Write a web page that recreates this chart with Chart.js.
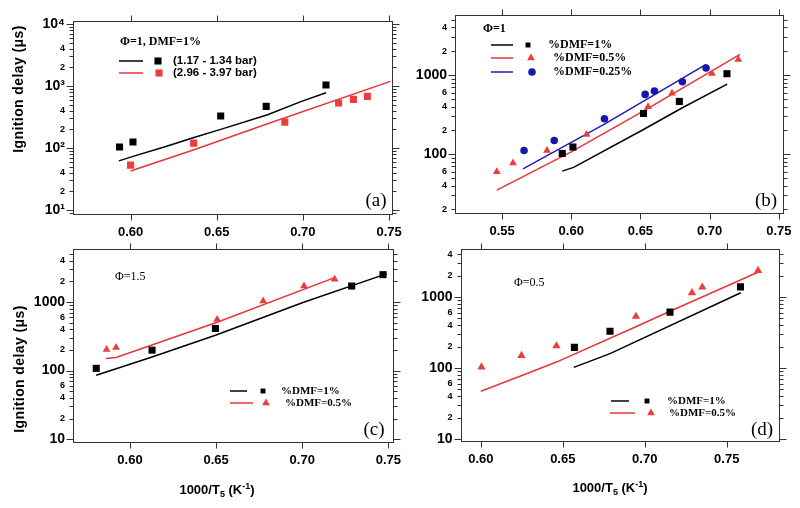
<!DOCTYPE html>
<html>
<head>
<meta charset="utf-8">
<script src="https://cdn.jsdelivr.net/npm/chart.js@4.4.0/dist/chart.umd.min.js"></script>
<style>
  html, body { margin: 0; padding: 0; background: #fff; }
  #wrap { position: relative; width: 800px; height: 508px; overflow: hidden; }
  #wrap canvas { position: absolute; left: 0; top: 0; }
  .ytitle, .xtitle {
    position: absolute; white-space: nowrap; color: #000;
    font: bold 14px "Liberation Sans", Arial, sans-serif;
  }
  .ytitle { transform: translate(-50%, -50%) rotate(-90deg); letter-spacing: 0.4px; }
  .xtitle { transform: translate(-50%, -50%); font-size: 13px; }
  .xtitle sub, .xtitle sup { font-size: 9px; }
</style>
</head>
<body>
<div id="wrap">
  <canvas id="pa" width="800" height="508"></canvas>
  <canvas id="pb" width="800" height="508"></canvas>
  <canvas id="pc" width="800" height="508"></canvas>
  <canvas id="pd" width="800" height="508"></canvas>
  <div class="ytitle" style="left:18px; top:89px;">Ignition delay (μs)</div>
  <div class="ytitle" style="left:19px; top:369px;">Ignition delay (μs)</div>
  <div class="xtitle" style="left:217px; top:490px;">1000/T<sub>5</sub> (K<sup>-1</sup>)</div>
  <div class="xtitle" style="left:610px; top:488px;">1000/T<sub>5</sub> (K<sup>-1</sup>)</div>
</div>
<script>
// ---- panel (a): phi=1, DMF=1%, two pressure ranges
const aBlackX = [0.5936, 0.6014, 0.6523, 0.6787, 0.7134];
const aBlackY = [104, 125, 328, 470, 1037];
const aRedX = [0.6000, 0.6366, 0.6895, 0.7207, 0.7293, 0.7374];
const aRedY = [53, 120, 262, 532, 609, 681];
const aBlackLineX = [0.5932, 0.6019, 0.6200, 0.6368, 0.6523, 0.6795, 0.6988, 0.7134];
const aBlackLineY = [62, 74, 105, 148, 200, 345, 560, 780];
const aRedLineX = [0.6000, 0.6368, 0.6795, 0.7508];
const aRedLineY = [42.5, 94, 246, 1189];

// ---- panel (b): phi=1, three DMF levels
const bBlackX = [0.5935, 0.6012, 0.6522, 0.6781, 0.7125];
const bBlackY = [102, 123, 327, 464, 1040];
const bRedX = [0.5462, 0.5579, 0.5825, 0.6111, 0.6555, 0.6728, 0.7017, 0.7207];
const bRedY = [60, 77, 111, 177, 397, 587, 1050, 1579];
const bBlueX = [0.5659, 0.5877, 0.6240, 0.6534, 0.6601, 0.6803, 0.6974];
const bBlueY = [111, 149, 280, 569, 627, 824, 1227];
const bBlackLineX = [0.5935, 0.6017, 0.6522, 0.6803, 0.7127];
const bBlackLineY = [61, 68, 205, 386, 769];
const bRedLineX = [0.5462, 0.6000, 0.6555, 0.7219];
const bRedLineY = [35, 107, 379, 1829];
const bBlueLineX = [0.5651, 0.6240, 0.6974];
const bBlueLineY = [65, 240, 1365];

// ---- panel (c): phi=1.5
const cBlackX = [0.5804, 0.6128, 0.6496, 0.7287, 0.7469];
const cBlackY = [108, 199, 412, 1714, 2512];
const cRedX = [0.5864, 0.5919, 0.6506, 0.6773, 0.7010, 0.7188];
const cRedY = [203, 217, 557, 1035, 1714, 2147];
const cBlackLineX = [0.5804, 0.6128, 0.6496, 0.7000, 0.7492];
const cBlackLineY = [85.5, 158, 329, 977, 2600];
const cRedLineX = [0.5860, 0.5919, 0.6506, 0.7188];
const cRedLineY = [150, 155, 509, 2270];

// ---- panel (d): phi=0.5
const dBlackX = [0.6571, 0.6788, 0.7154, 0.7584];
const dBlackY = [195, 328, 612, 1389];
const dRedX = [0.6004, 0.6248, 0.6461, 0.6946, 0.7288, 0.7351, 0.7691];
const dRedY = [103, 149, 204, 532, 1146, 1374, 2355];
const dBlackLineX = [0.6567, 0.6788, 0.7586];
const dBlackLineY = [102, 159, 1146];
const dRedLineX = [0.6000, 0.6231, 0.6461, 0.6946, 0.7154, 0.7690];
const dRedLineY = [47, 75, 121, 381, 630, 2234];

// tick labels
const xTicksA = [0.60, 0.65, 0.70, 0.75];
const xTicksB = [0.55, 0.60, 0.65, 0.70, 0.75];
const xTicksC = [0.60, 0.65, 0.70, 0.75];
const xTicksD = [0.60, 0.65, 0.70, 0.75];
const minorLabelsA = [2, 4];
const minorLabelsBCD = [2, 4, 6];
const supDigits = { '1': '¹', '2': '²', '3': '³', '4': '⁴' };

const SANS = '"Liberation Sans", Arial, sans-serif';
const SERIF = '"Liberation Serif", "Times New Roman", serif';
const RED = '#ec3d3d';
const RED_LINE = '#e8343a';
const BLUE = '#1818a8';
const BLUE_LINE = '#1e1eb4';

function pts(xs, ys) {
    return xs.map((x, i) => ({ x: x, y: ys[i] }));
}
function lineSet(xs, ys, color) {
    return { data: pts(xs, ys), showLine: true, borderColor: color, borderWidth: 1.5,
             pointRadius: 0, pointHoverRadius: 0, tension: 0 };
}
function markSet(xs, ys, color, style, r) {
    return { data: pts(xs, ys), showLine: false, pointStyle: style, pointRadius: r,
             pointHoverRadius: r, backgroundColor: color, borderColor: color, borderWidth: 0 };
}
function isDecade(v) {
    const l = Math.log10(v);
    return Math.abs(l - Math.round(l)) < 1e-9;
}
// 1..9 x 10^n ticks inside the range
function logTicks(min, max) {
    const out = [];
    for (let e = Math.floor(Math.log10(min)); e <= Math.ceil(Math.log10(max)); e++) {
        for (let k = 1; k <= 9; k++) {
            const v = k * Math.pow(10, e);
            if (v >= min && v <= max) out.push({ value: v });
        }
    }
    return out;
}

// frame and outward ticks on all four sides
const framePlugin = {
    id: 'frame',
    afterDraw(chart) {
        const { ctx, chartArea: a, scales } = chart;
        ctx.save();
        ctx.strokeStyle = '#333';
        ctx.lineWidth = 1;
        const L = Math.round(a.left) + 0.5, R = Math.round(a.right) + 0.5;
        const T = Math.round(a.top) + 0.5, B = Math.round(a.bottom) + 0.5;
        ctx.strokeRect(L, T, R - L, B - T);
        ctx.beginPath();
        scales.x.ticks.forEach(t => {
            const px = Math.round(scales.x.getPixelForValue(t.value)) + 0.5;
            ctx.moveTo(px, B); ctx.lineTo(px, B + 6);
            ctx.moveTo(px, T); ctx.lineTo(px, T - 6);
        });
        scales.y.ticks.forEach(t => {
            const py = Math.round(scales.y.getPixelForValue(t.value)) + 0.5;
            const len = isDecade(t.value) ? 7 : 4;
            ctx.moveTo(L, py); ctx.lineTo(L - len, py);
            ctx.moveTo(R, py); ctx.lineTo(R + len, py);
        });
        ctx.stroke();
        ctx.restore();
    }
};

// in-plot legend, headings and panel letters
const notesPlugin = {
    id: 'notes',
    afterDraw(chart, args, opts) {
        const ctx = chart.ctx;
        ctx.save();
        (opts.items || []).forEach(it => {
            if (it.kind === 'text') {
                ctx.font = it.font;
                ctx.fillStyle = '#000';
                ctx.textAlign = it.align || 'left';
                ctx.textBaseline = 'middle';
                ctx.fillText(it.text, it.x, it.y);
            } else if (it.kind === 'line') {
                ctx.strokeStyle = it.color;
                ctx.lineWidth = 1.5;
                ctx.beginPath();
                ctx.moveTo(it.x1, it.y); ctx.lineTo(it.x2, it.y);
                ctx.stroke();
            } else if (it.kind === 'mark') {
                ctx.fillStyle = it.color;
                ctx.strokeStyle = it.color;
                ctx.lineWidth = 0;
                Chart.helpers.drawPoint(ctx, { pointStyle: it.style, radius: it.r, rotation: 0, borderWidth: 0 }, it.x, it.y);
            }
        });
        ctx.restore();
    }
};

function makePanel(id, p) {
    return new Chart(document.getElementById(id), {
        type: 'scatter',
        data: { datasets: p.datasets },
        options: {
            responsive: false,
            animation: false,
            events: [],
            layout: { padding: p.padding },
            scales: {
                x: {
                    type: 'linear',
                    min: p.xMin, max: p.xMax,
                    afterBuildTicks: s => { s.ticks = p.xTicks.map(v => ({ value: v })); },
                    afterFit: s => { s.height = 30; },
                    grid: { display: false, drawTicks: true, tickLength: 6 },
                    border: { display: false },
                    ticks: {
                        autoSkip: false, maxRotation: 0, padding: 5, color: '#000',
                        font: { family: SANS, size: 13, weight: 'bold' },
                        callback: v => Number(v).toFixed(2)
                    }
                },
                y: {
                    type: 'logarithmic',
                    min: p.yMin, max: p.yMax,
                    afterBuildTicks: s => { s.ticks = logTicks(p.yMin, p.yMax); },
                    afterFit: s => { s.width = 45; },
                    grid: { display: false, drawTicks: true, tickLength: 6 },
                    border: { display: false },
                    ticks: {
                        autoSkip: false, padding: 2, color: '#000',
                        font: c => (c.tick && isDecade(c.tick.value))
                            ? { family: SANS, size: 14, weight: 'bold' }
                            : { family: SANS, size: 9, weight: 'bold' },
                        callback: v => {
                            if (isDecade(v)) {
                                if (p.sup) return '10' + supDigits[String(Math.round(Math.log10(v)))];
                                return String(Math.round(v));
                            }
                            const d = Math.round(v / Math.pow(10, Math.floor(Math.log10(v) + 1e-9)));
                            return p.minorLabels.includes(d) ? String(d) : '';
                        }
                    }
                }
            },
            plugins: {
                legend: { display: false },
                tooltip: { enabled: false },
                notes: { items: p.notes }
            }
        },
        plugins: [framePlugin, notesPlugin]
    });
}

const legSans = 'bold 11.5px ' + SANS;
const headSerif = 'bold 12px ' + SERIF;
const rowSerifB = 'bold 12px ' + SERIF;
const rowSerif = 'bold 11px ' + SERIF;
const letterFont = '19px ' + SERIF;

makePanel('pa', {
    padding: { left: 28, top: 21, right: 408.5, bottom: 264 },
    xMin: 0.5666, xMax: 0.7514, yMin: 8.61, yMax: 11220,
    xTicks: xTicksA, minorLabels: minorLabelsA, sup: true,
    datasets: [
        markSet(aBlackX, aBlackY, '#000', 'rect', 5),
        markSet(aRedX, aRedY, RED, 'rect', 5),
        lineSet(aBlackLineX, aBlackLineY, '#000'),
        lineSet(aRedLineX, aRedLineY, RED_LINE)
    ],
    notes: [
        { kind: 'text', text: 'Φ=1, DMF=1%', x: 120, y: 42, font: headSerif },
        { kind: 'line', x1: 119, x2: 143, y: 61, color: '#000' },
        { kind: 'mark', style: 'rect', r: 5, x: 158, y: 61, color: '#000' },
        { kind: 'text', text: '(1.17 - 1.34 bar)', x: 173, y: 61, font: legSans },
        { kind: 'line', x1: 119, x2: 143, y: 73, color: RED_LINE },
        { kind: 'mark', style: 'rect', r: 5, x: 159, y: 73, color: RED },
        { kind: 'text', text: '(2.96 - 3.97 bar)', x: 173, y: 73, font: legSans },
        { kind: 'text', text: '(a)', x: 376, y: 201, font: letterFont, align: 'center' }
    ]
});

makePanel('pb', {
    padding: { left: 410, top: 15, right: 17, bottom: 265 },
    xMin: 0.516, xMax: 0.753, yMin: 18, yMax: 5750,
    xTicks: xTicksB, minorLabels: minorLabelsBCD, sup: false,
    datasets: [
        markSet(bBlackX, bBlackY, '#000', 'rect', 5),
        markSet(bRedX, bRedY, RED, 'triangle', 4.5),
        markSet(bBlueX, bBlueY, BLUE, 'circle', 3.8),
        lineSet(bBlackLineX, bBlackLineY, '#000'),
        lineSet(bRedLineX, bRedLineY, RED_LINE),
        lineSet(bBlueLineX, bBlueLineY, BLUE_LINE)
    ],
    notes: [
        { kind: 'text', text: 'Φ=1', x: 483, y: 29, font: headSerif },
        { kind: 'line', x1: 491, x2: 513, y: 45, color: '#000' },
        { kind: 'mark', style: 'rect', r: 3.5, x: 528, y: 45, color: '#000' },
        { kind: 'text', text: '%DMF=1%', x: 548, y: 45, font: rowSerifB },
        { kind: 'line', x1: 491, x2: 513, y: 58, color: RED_LINE },
        { kind: 'mark', style: 'triangle', r: 4.5, x: 531, y: 58, color: RED },
        { kind: 'text', text: '%DMF=0.5%', x: 553, y: 58, font: rowSerifB },
        { kind: 'line', x1: 491, x2: 513, y: 72, color: BLUE_LINE },
        { kind: 'mark', style: 'circle', r: 3.8, x: 532, y: 72, color: BLUE },
        { kind: 'text', text: '%DMF=0.25%', x: 553, y: 72, font: rowSerifB },
        { kind: 'text', text: '(b)', x: 766, y: 201, font: letterFont, align: 'center' }
    ]
});

makePanel('pc', {
    padding: { left: 28, top: 249, right: 407, bottom: 36 },
    xMin: 0.5669, xMax: 0.7527, yMin: 9.1, yMax: 5943,
    xTicks: xTicksC, minorLabels: minorLabelsBCD, sup: false,
    datasets: [
        markSet(cBlackX, cBlackY, '#000', 'rect', 5),
        markSet(cRedX, cRedY, RED, 'triangle', 4.5),
        lineSet(cBlackLineX, cBlackLineY, '#000'),
        lineSet(cRedLineX, cRedLineY, RED_LINE)
    ],
    notes: [
        { kind: 'text', text: 'Φ=1.5', x: 115, y: 277, font: '12px ' + SERIF },
        { kind: 'line', x1: 230, x2: 247, y: 391, color: '#000' },
        { kind: 'mark', style: 'rect', r: 3.5, x: 263, y: 391, color: '#000' },
        { kind: 'text', text: '%DMF=1%', x: 281, y: 391, font: rowSerif },
        { kind: 'line', x1: 230, x2: 253, y: 403, color: RED_LINE },
        { kind: 'mark', style: 'triangle', r: 4.5, x: 266, y: 403, color: RED },
        { kind: 'text', text: '%DMF=0.5%', x: 285, y: 403, font: rowSerif },
        { kind: 'text', text: '(c)', x: 374, y: 430, font: letterFont, align: 'center' }
    ]
});

makePanel('pd', {
    padding: { left: 415.5, top: 249, right: 21, bottom: 37.5 },
    xMin: 0.5876, xMax: 0.7819, yMin: 9.5, yMax: 4742,
    xTicks: xTicksD, minorLabels: minorLabelsBCD, sup: false,
    datasets: [
        markSet(dBlackX, dBlackY, '#000', 'rect', 5),
        markSet(dRedX, dRedY, RED, 'triangle', 4.8),
        lineSet(dBlackLineX, dBlackLineY, '#000'),
        lineSet(dRedLineX, dRedLineY, RED_LINE)
    ],
    notes: [
        { kind: 'text', text: 'Φ=0.5', x: 514, y: 283, font: '12px ' + SERIF },
        { kind: 'line', x1: 611, x2: 629, y: 401, color: '#000' },
        { kind: 'mark', style: 'rect', r: 3.5, x: 647, y: 401, color: '#000' },
        { kind: 'text', text: '%DMF=1%', x: 667, y: 401, font: rowSerif },
        { kind: 'line', x1: 610, x2: 635, y: 413, color: RED_LINE },
        { kind: 'mark', style: 'triangle', r: 4.5, x: 651, y: 413, color: RED },
        { kind: 'text', text: '%DMF=0.5%', x: 669, y: 413, font: rowSerif },
        { kind: 'text', text: '(d)', x: 762, y: 430, font: letterFont, align: 'center' }
    ]
});
</script>
</body>
</html>
